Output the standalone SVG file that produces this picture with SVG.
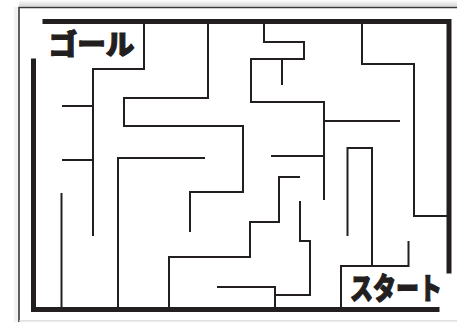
<svg xmlns="http://www.w3.org/2000/svg" width="457" height="322" viewBox="0 0 457 322">
<defs>
<linearGradient id="sh" x1="0" y1="0" x2="0" y2="1">
<stop offset="0" stop-color="#ffffff"/>
<stop offset="1" stop-color="#d6d6d6"/>
</linearGradient>
<style>
.frame{fill:none;stroke:#3a3a3a;stroke-width:1.6}
.thick{fill:none;stroke:#231f20;stroke-width:5;stroke-linecap:square}
.thin{fill:none;stroke:#231f20;stroke-width:2;stroke-linecap:butt;stroke-linejoin:miter}
.lbl{font-family:"Noto Sans CJK JP","Noto Sans",sans-serif;font-weight:900;fill:#231f20;stroke:#231f20;stroke-width:1.2;stroke-linejoin:round}
</style>
</defs>
<rect x="0" y="0" width="457" height="322" fill="#ffffff"/>
<rect x="19" y="0" width="438" height="6.5" fill="url(#sh)"/>
<rect x="14" y="7" width="5" height="315" fill="#f2f2f2"/>
<path class="frame" d="M19,322 V7.5 H457"/>
<line x1="19" y1="320.8" x2="457" y2="320.8" stroke="#d8d8d8" stroke-width="1.2"/>
<g id="border">
<path class="thick" d="M45,21.5 H449 V271"/>
<path class="thick" d="M33.5,61 V309.5 H437"/>
</g>
<g id="walls">
<path class="thin" d="M144,22 V69 H93 V236"/>
<path class="thin" d="M62,106 H93"/>
<path class="thin" d="M62,160 H93"/>
<path class="thin" d="M61.5,193 V309"/>
<path class="thin" d="M208,22 V98 H124 V126 H243 V192 H190 V232"/>
<path class="thin" d="M205,158 H118 V309"/>
<path class="thin" d="M300,177 H279 V222 H250 V257 H169 V309"/>
<path class="thin" d="M217,287 H275 V309"/>
<path class="thin" d="M300,201 V241 H310 V295 H275"/>
<path class="thin" d="M264,22 V42 H304 V59 H251 V102 H324 V200"/>
<path class="thin" d="M282,59 V85"/>
<path class="thin" d="M324,121 H400"/>
<path class="thin" d="M271,156 H324"/>
<path class="thin" d="M362,22 V64 H414 V216 H448"/>
<path class="thin" d="M347.5,236 V148 H372 V266"/>
<path class="thin" d="M408.5,241 V266 H341 V309"/>
</g>
<g id="goal">
<text class="lbl" x="48.5" y="55" font-size="28" textLength="86" lengthAdjust="spacingAndGlyphs">ゴール</text>
</g>
<g id="start">
<text class="lbl" x="350" y="299" font-size="30" textLength="92" lengthAdjust="spacingAndGlyphs">スタート</text>
</g>
</svg>
